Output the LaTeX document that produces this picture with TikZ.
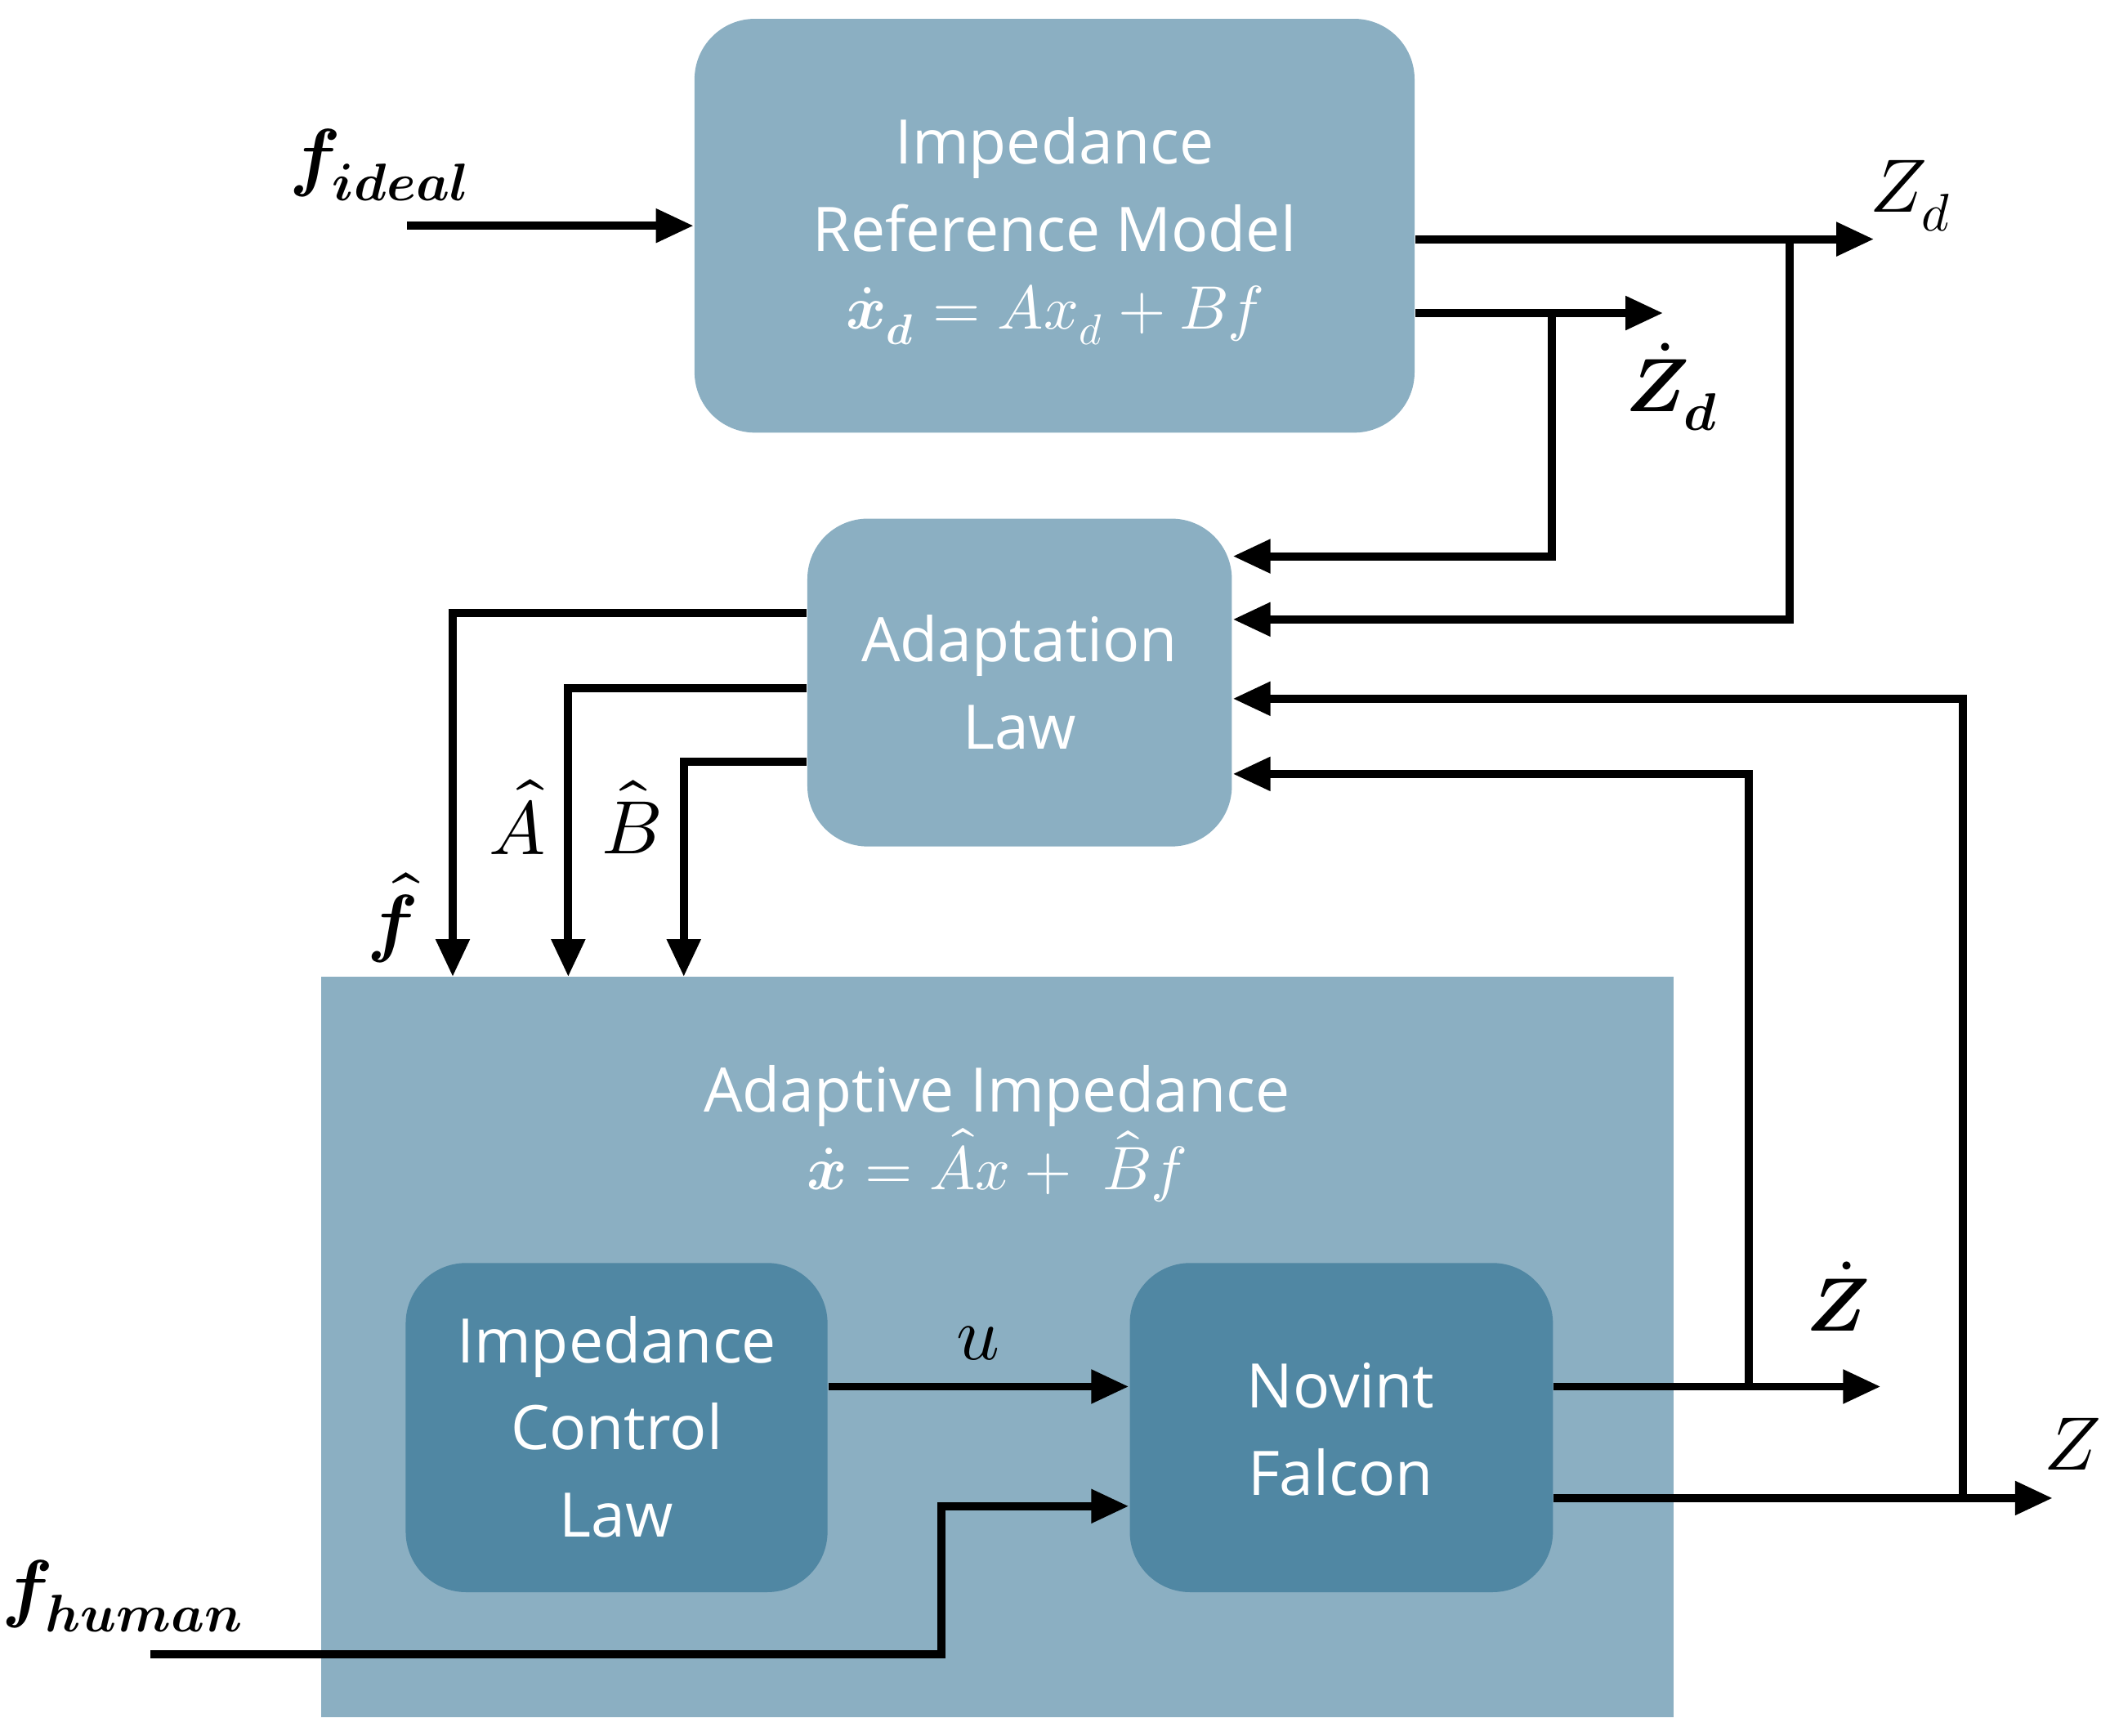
\documentclass[tikz,border=0pt]{standalone}
\usepackage{amsmath}
\usepackage{fontspec}
\setmainfont{Open Sans}
\usepackage{unicode-math}
\setmathfont{Latin Modern Math}
\usetikzlibrary{arrows.meta}
\definecolor{lightb}{HTML}{8BAFC2}
\definecolor{darkb}{HTML}{5087A3}
\begin{document}
\begin{tikzpicture}[x=0.1mm,y=-0.1mm,
  box/.style={fill=lightb,draw=none,rounded corners=4.5mm,inner sep=0pt},
  dbox/.style={fill=darkb,draw=none,rounded corners=4.5mm,inner sep=0pt},
  txt/.style={text=white,font=\fontsize{13}{18.5}\selectfont,align=center},
  lbl/.style={font=\fontsize{16}{18}\selectfont},
  arr/.style={line width=0.6mm,-{Triangle[length=2.8mm,width=2.4mm]}},
  ln/.style={line width=0.6mm}]
\useasboundingbox (0,0) rectangle (1564,1292);
% boxes
\node[box,minimum width=53.6mm,minimum height=30.8mm] (ref) at (785,168) {};
\node[box,minimum width=31.6mm,minimum height=24.4mm] (ad) at (759,508) {};
\node[fill=lightb,draw=none,minimum width=100.7mm,minimum height=55.1mm,inner sep=0pt] (ai) at (742.5,1002.5) {};
\node[dbox,minimum width=31.4mm,minimum height=24.5mm] (icl) at (459,1062.5) {};
\node[dbox,minimum width=31.5mm,minimum height=24.5mm] (nf) at (998.5,1062.5) {};
% texts
\node[txt] (t1) at (785,172) {Impedance\\Reference Model\\[-2pt]$\dot{\symbfit{x}}_{\symbfit{d}}=Ax_d+Bf$};
\node[txt] (t2) at (759,508) {Adaptation\\Law};
\node[txt] (t3) at (742,844) {Adaptive Impedance\\[-2pt]$\dot{\symbfit{x}}=\hat{A}x+\;\hat{B}f$};
\node[txt] (t4) at (459,1062) {Impedance\\Control\\Law};
\node[txt] (t5) at (998,1064) {Novint\\Falcon};
% labels
\node[lbl] (l1) at (283,123) {$\symbfit{f}_{\symbfit{ideal}}$};
\node[lbl] (l2) at (1423,146) {$Z_d$};
\node[lbl] (l3) at (1245,288) {$\dot{\symbfit{Z}}_{\symbfit{d}}$};
\node[lbl] (l4) at (292,683) {$\hat{\symbfit{f}}$};
\node[lbl] (l5) at (385,608) {$\hat{A}$};
\node[lbl] (l6) at (470,608) {$\hat{B}$};
\node[lbl] (l7) at (728,1000) {$u$};
\node[lbl] (l8) at (1368,965) {$\dot{\symbfit{Z}}$};
\node[lbl] (l9) at (1543,1075) {$Z$};
\node[lbl] (l10) at (92,1188) {$\symbfit{f}_{\symbfit{human}}$};
% coordinates
\coordinate (fi) at (303,168);
\coordinate (zdo) at (1395,178);
\coordinate (zddo) at (1238,233);
\coordinate (zo) at (1528,1115);
\coordinate (zdto) at (1400,1032);
\coordinate (fh) at (112,1231);
% connectors
\draw[arr] (fi) -- (ref.west |- fi);
\draw[arr] (ref.east |- zdo) -- (zdo);
\draw[arr] (ref.east |- zddo) -- (zddo);
\draw[arr] (1155,233) -- (1155,414) -- (ad.east |- 0,414);
\draw[arr] (1332,178) -- (1332,461) -- (ad.east |- 0,461);
\draw[arr] (nf.east |- zo) -- (zo);
\draw[arr] (nf.east |- zdto) -- (zdto);
\draw[arr] (1461,1115) -- (1461,520) -- (ad.east |- 0,520);
\draw[arr] (1302,1032) -- (1302,576) -- (ad.east |- 0,576);
\draw[arr] (ad.west |- 0,456) -- (337,456) -- (337,727);
\draw[arr] (ad.west |- 0,512) -- (423,512) -- (423,727);
\draw[arr] (ad.west |- 0,567) -- (509,567) -- (509,727);
\draw[arr] (icl.east |- 0,1032) -- (nf.west |- 0,1032);
\draw[arr] (fh) -- (701,1231) -- (701,1121) -- (nf.west |- 0,1121);
\end{tikzpicture}
\end{document}
